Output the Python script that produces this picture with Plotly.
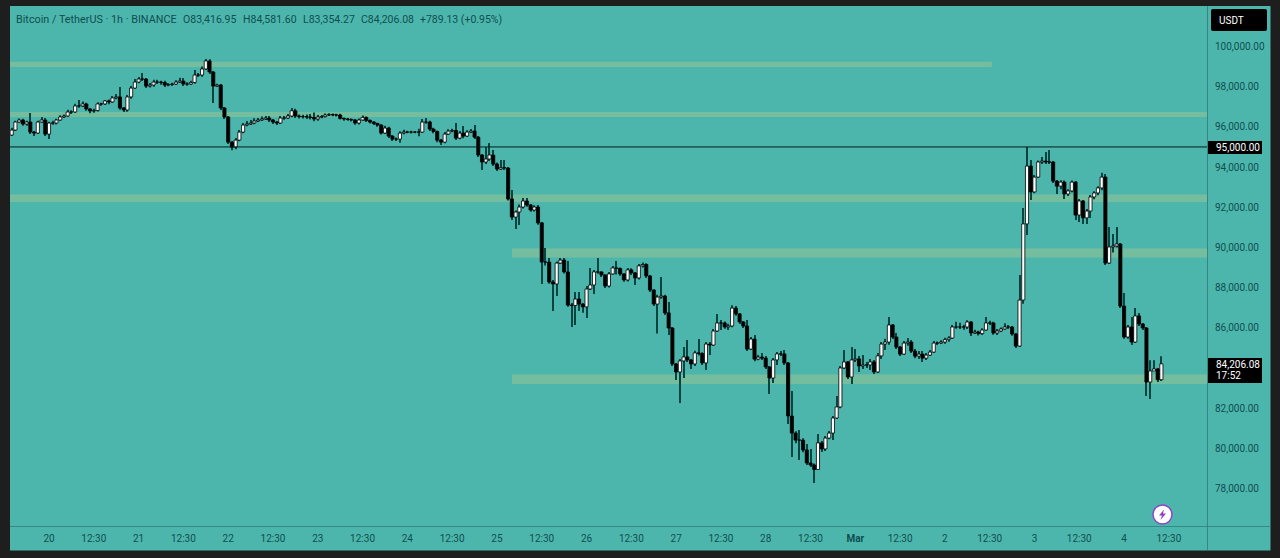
import pandas as pd
import plotly.graph_objects as go

first_open = 95590
closes = [
    95840, 96240, 96340, 96140, 96240, 95740, 95690, 96240, 96340, 95640,
    96190, 96190, 96340, 96490, 96540, 96740, 96740, 97040, 97040, 97140,
    96890, 96790, 96810, 97140, 97140, 97290, 97240, 97440, 97490, 96940,
    96840, 97490, 97930, 98230, 98380, 98380, 98030, 98080, 98230, 98230,
    98210, 98080, 98110, 98130, 98230, 98280, 98130, 98130, 98210, 98580,
    98580, 98880, 99280, 98730, 98030, 98080, 96940, 96490, 95240, 94990,
    95340, 95740, 96090, 96140, 96190, 96290, 96340, 96390, 96440, 96340,
    96240, 96190, 96440, 96440, 96540, 96800, 96540, 96510, 96510, 96490,
    96470, 96390, 96490, 96510, 96590, 96610, 96590, 96590, 96420, 96390,
    96370, 96340, 96190, 96340, 96470, 96320, 96240, 96170, 96090, 95690,
    95940, 95540, 95390, 95390, 95690, 95740, 95740, 95740, 95740, 95740,
    96240, 96240, 95890, 95770, 95340, 95240, 95640, 95790, 95820, 95440,
    95690, 95540, 95740, 95790, 95490, 94600, 94250, 94400, 94600, 94150,
    93900, 93970, 93950, 92410, 91510, 91760, 92010, 92310, 92110, 91860,
    92010, 91220, 89270, 89270, 88280, 88180, 89220, 89370, 88780, 87130,
    87110, 87430, 87180, 87040, 87930, 88130, 88780, 88780, 88630, 88080,
    88680, 88980, 88950, 88680, 88380, 88880, 88730, 88480, 89080, 89150,
    88580, 87880, 87180, 87530, 87580, 86740, 85990, 84200, 83800, 84350,
    84550, 84400, 84200, 84750, 84720, 84250, 85190, 85140, 85840, 86240,
    86240, 86040, 86090, 86980, 86690, 86290, 86090, 84940, 85440, 84440,
    84540, 84490, 84050, 83500, 84400, 84700, 84700, 84250, 81610, 80760,
    80410, 80410, 79920, 79270, 79170, 78950, 80270, 79970, 80510, 80760,
    81510, 82060, 84000, 84300, 83550, 84400, 84450, 84100, 84150, 84150,
    84300, 83800, 84600, 85190, 85290, 86140, 85540, 85040, 84690, 85240,
    85290, 84840, 84590, 84690, 84490, 84640, 84790, 85240, 85240, 85290,
    85410, 85490, 86040, 86040, 86040, 86040, 86290, 85740, 85790, 85710,
    85890, 86240, 86240, 85740, 85840, 85940, 86040, 86040, 85690, 85090,
    87380, 91170, 94050, 92760, 93500, 94250, 94300, 94250, 94250, 93300,
    93050, 93250, 92660, 92810, 93250, 91610, 92310, 91470, 91810, 92510,
    92710, 92960, 93500, 89220, 90020, 90070, 90170, 87080, 85540, 86040,
    85290, 86590, 86190, 85990, 83300, 83850, 83950, 83416.95, 84206.08,
]
highs = [
    95950, 96300, 96420, 96400, 96300, 96690, 95800, 96300, 96490, 96440,
    96250, 96300, 96400, 96580, 96620, 96850, 96830, 97150, 97340, 97260,
    97200, 96940, 96900, 97220, 97200, 97340, 97360, 97540, 97640, 97980,
    96990, 97580, 98030, 98380, 98480, 98680, 98430, 98180, 98340, 98340,
    98300, 98300, 98180, 98200, 98320, 98440, 98430, 98220, 98290, 98830,
    98680, 99000, 99380, 99370, 98780, 98150, 98130, 96990, 96540, 95300,
    95440, 95840, 96190, 96290, 96340, 96430, 96440, 96520, 96540, 96540,
    96390, 96290, 96540, 96540, 96640, 96940, 96900, 96610, 96600, 96620,
    96640, 96720, 96590, 96590, 96670, 96680, 96660, 96650, 96650, 96470,
    96440, 96420, 96390, 96420, 96570, 96520, 96360, 96280, 96210, 96130,
    96050, 96000, 95590, 95470, 95780, 95850, 95810, 95810, 95800, 95900,
    96390, 96440, 96300, 95950, 95820, 95400, 95740, 95880, 95900, 96190,
    95800, 96040, 95830, 95890, 96090, 95540, 94650, 95000, 95200, 94850,
    94220, 94350, 94350, 94000, 92860, 91840, 92130, 92460, 92460, 92160,
    92100, 92110, 91270, 89970, 89470, 88380, 89300, 89470, 89470, 89330,
    87230, 87780, 87780, 87230, 88080, 88980, 88880, 89470, 88800, 88650,
    88780, 89080, 89320, 89000, 88720, 88970, 88960, 88780, 89170, 89250,
    89210, 88630, 87920, 87640, 88530, 87640, 87280, 86040, 84250, 84450,
    85040, 85390, 84450, 84860, 85440, 84780, 85290, 85290, 85940, 86690,
    86390, 86310, 86200, 87120, 87080, 86740, 86340, 86390, 85540, 85640,
    84650, 84750, 84600, 84100, 84500, 84800, 84850, 84900, 84300, 82850,
    80850, 80910, 80500, 80210, 79970, 79250, 80710, 80370, 80610, 80860,
    81610, 82600, 84100, 84890, 84350, 85040, 84950, 84600, 84650, 84300,
    84450, 84400, 84750, 85290, 85450, 86540, 86190, 85740, 85090, 85340,
    85490, 85390, 84950, 84850, 84850, 84750, 84890, 85340, 85320, 85380,
    85500, 85580, 86140, 86300, 86250, 86150, 86370, 86340, 85900, 85850,
    85980, 86540, 86350, 86300, 85940, 86020, 86230, 86140, 86090, 85740,
    88630, 91960, 95000, 94350, 93600, 94330, 94500, 94750, 94850, 94300,
    93350, 93340, 93330, 92900, 93330, 93300, 92410, 92360, 91910, 92610,
    92800, 93040, 93710, 93650, 91010, 90670, 91010, 90220, 87730, 86140,
    86540, 86980, 86740, 86240, 86040, 84390, 84390, 84000, 84581.60,
]
lows = [
    95540, 95800, 96200, 96050, 96050, 95650, 95540, 95650, 96200, 95550,
    95400, 96100, 96120, 96300, 96440, 96500, 96640, 96700, 96950, 96990,
    96800, 96680, 96700, 96760, 97050, 97090, 97130, 97200, 97380, 96850,
    96740, 96750, 97400, 97880, 98170, 98280, 97930, 97960, 98000, 98130,
    98100, 97980, 98020, 98030, 98080, 98180, 98030, 98050, 98080, 98150,
    98480, 98500, 98830, 98630, 97190, 97980, 96840, 96390, 95150, 94840,
    94880, 95280, 95680, 96030, 96090, 96130, 96240, 96290, 96340, 96240,
    96140, 96090, 96140, 96350, 96390, 96480, 96440, 96410, 96420, 96390,
    96370, 96280, 96300, 96430, 96470, 96540, 96530, 96520, 96360, 96310,
    96300, 96270, 96110, 96120, 96300, 96240, 96170, 96090, 96000, 95620,
    95650, 95450, 95300, 95300, 95210, 95630, 95680, 95670, 95680, 95530,
    95690, 96150, 95790, 95680, 95240, 95100, 95190, 95590, 95730, 95340,
    95380, 95430, 95490, 95690, 95400, 94500, 93850, 94150, 94300, 94050,
    93800, 93850, 93850, 92330, 91360, 90920, 91110, 91940, 92020, 91770,
    91790, 91130, 88180, 89100, 88190, 86840, 87580, 89170, 88700, 87050,
    86040, 86140, 86840, 86750, 86490, 87880, 87680, 88690, 88530, 87980,
    88000, 88640, 88650, 88590, 88290, 88300, 88630, 88130, 88400, 89000,
    88480, 87780, 87080, 85710, 87450, 86640, 85640, 84100, 83400, 82260,
    83500, 84300, 83950, 84100, 84620, 84150, 83900, 84640, 85090, 85790,
    85890, 85950, 85890, 86030, 86600, 86190, 85990, 84840, 84900, 84340,
    84380, 84400, 83950, 82700, 83250, 84150, 84600, 84150, 81210, 79570,
    80250, 79420, 79800, 79170, 79070, 78275, 78950, 79820, 79870, 80450,
    80420, 81460, 82000, 83950, 83450, 83200, 84300, 83800, 83950, 84000,
    83900, 83700, 83750, 84450, 84900, 85150, 85440, 84950, 84590, 84640,
    85100, 84740, 84490, 84450, 84300, 84400, 84590, 84740, 85140, 85190,
    85200, 85300, 85440, 85950, 85940, 85900, 85940, 85590, 85690, 85620,
    85640, 85850, 86140, 85650, 85640, 85790, 85900, 85940, 85600, 85000,
    85040, 87190, 90620, 92360, 92700, 93455, 94150, 94150, 94150, 93200,
    92660, 92900, 92410, 92560, 92750, 91360, 91270, 91170, 91170, 91470,
    92400, 92600, 92850, 89120, 89170, 89750, 90000, 86980, 85450, 85450,
    85140, 85240, 86090, 85890, 82600, 82450, 83850, 83300, 83354.27,
]
opens = [first_open] + closes[:-1]

first_candle = "2025-02-19 14:30"

y_tick_vals = [100000, 98000, 96000, 94000, 92000, 90000, 88000, 86000, 82000, 80000, 78000]
y_tick_text = ["100,000.00", "98,000.00", "96,000.00", "94,000.00", "92,000.00", "90,000.00",
               "88,000.00", "86,000.00", "82,000.00", "80,000.00", "78,000.00"]
x_tick_vals = ["2025-02-20 00:30", "2025-02-20 12:30", "2025-02-21 00:30", "2025-02-21 12:30",
               "2025-02-22 00:30", "2025-02-22 12:30", "2025-02-23 00:30", "2025-02-23 12:30",
               "2025-02-24 00:30", "2025-02-24 12:30", "2025-02-25 00:30", "2025-02-25 12:30",
               "2025-02-26 00:30", "2025-02-26 12:30", "2025-02-27 00:30", "2025-02-27 12:30",
               "2025-02-28 00:30", "2025-02-28 12:30", "2025-03-01 00:30", "2025-03-01 12:30",
               "2025-03-02 00:30", "2025-03-02 12:30", "2025-03-03 00:30", "2025-03-03 12:30",
               "2025-03-04 00:30", "2025-03-04 12:30"]
x_tick_text = ["20", "12:30", "21", "12:30", "22", "12:30", "23", "12:30", "24", "12:30", "25", "12:30",
               "26", "12:30", "27", "12:30", "28", "12:30", "<b>Mar</b>", "12:30", "2", "12:30", "3", "12:30",
               "4", "12:30"]

# (start, end, low, high) of the pale zones
zones = [
    ("2025-02-19 14:00", "2025-03-02 13:06", 98985, 99245),
    ("2025-02-19 14:00", "2025-03-04 22:43", 96490, 96735),
    ("2025-02-19 14:00", "2025-03-04 22:43", 92255, 92635),
    ("2025-02-25 04:30", "2025-03-04 22:43", 89495, 89940),
    ("2025-02-25 04:30", "2025-03-04 22:43", 83200, 83675),
]
header_parts = [
    (14, "Bitcoin / TetherUS · 1h · BINANCE", 10.8),
    (181, "O83,416.95", 10.5),
    (241, "H84,581.60", 10.5),
    (301, "L83,354.27", 10.5),
    (359, "C84,206.08", 10.5),
    (418, "+789.13 (+0.95%)", 10.5),
]

TEAL = "#4DB6AC"
ZONE = "#74BD9E"
FRAME = "#1E1E1E"
TEXT = "#0E4E50"
WICK = "#0A4441"
FONT = "Roboto, sans-serif"

W, H = 1280, 558
LEFT, RIGHT, TOP, BOTTOM = 10, 1207, 6, 526
HOUR_MS = 3600000


def px(x):
    return (x - LEFT) / (RIGHT - LEFT)


def py(y):
    return (BOTTOM - y) / (BOTTOM - TOP)


def paper_rect(x0, y0, x1, y1, **kw):
    return dict(type="rect", xref="paper", yref="paper", x0=px(x0), x1=px(x1), y0=py(y0), y1=py(y1), **kw)


def label(x, y, text, color=TEXT, size=10, anchor="left"):
    return dict(xref="paper", yref="paper", x=px(x), y=py(y), text=text, showarrow=False, xanchor=anchor,
                yanchor="middle", font=dict(family=FONT, size=size, color=color))


candles = pd.DataFrame({"open": opens, "high": highs, "low": lows, "close": closes},
                       index=pd.date_range(first_candle, periods=len(closes), freq="h"))
up = candles[candles["close"] >= candles["open"]]
down = candles[candles["close"] < candles["open"]]

# bars for wicks and bodies, go.Candlestick can't set its body width
fig = go.Figure(go.Bar(x=candles.index, y=candles["high"] - candles["low"], base=candles["low"],
                       width=HOUR_MS * 0.27, marker=dict(color=WICK, line=dict(width=0)), hoverinfo="skip"))
for part, fill in [(up, "#FFFFFF"), (down, "#000000")]:
    fig.add_trace(go.Bar(x=part.index, y=(part["close"] - part["open"]).abs(),
                         base=part[["open", "close"]].min(axis=1), width=HOUR_MS * 0.84,
                         marker=dict(color=fill, line=dict(color="#000000", width=0.8)), hoverinfo="skip"))

shapes = [
    paper_rect(LEFT, TOP, 1270.5, 550.5, fillcolor=TEAL, line_width=0, layer="below"),
    paper_rect(RIGHT, TOP, 1207.8, 550.5, fillcolor="#2F7C78", line_width=0, layer="below"),
    paper_rect(LEFT, 526, 1270.5, 526.8, fillcolor="#2F7C78", line_width=0, layer="below"),
]
for start, end, low, high in zones:
    shapes.append(dict(type="rect", xref="x", yref="y", x0=start, x1=end, y0=low, y1=high,
                       fillcolor=ZONE, line_width=0, layer="below"))
shapes.append(dict(type="line", xref="paper", yref="y", x0=0, x1=1, y0=95000, y1=95000,
                   line=dict(color="#031F1E", width=1), layer="above"))
# price tags and currency box
shapes.append(paper_rect(1208, 141, 1262, 154, fillcolor="#000000", line_width=0))
shapes.append(paper_rect(1208, 358, 1262, 383, fillcolor="#000000", line_width=0))
shapes.append(dict(type="path", xref="paper", yref="paper", fillcolor="#000000", line_width=0,
                   path=f"M{px(1213)},{py(9)} L{px(1265)},{py(9)} Q{px(1267)},{py(9)} {px(1267)},{py(11)} "
                        f"L{px(1267)},{py(29)} Q{px(1267)},{py(31)} {px(1265)},{py(31)} L{px(1213)},{py(31)} "
                        f"Q{px(1211)},{py(31)} {px(1211)},{py(29)} L{px(1211)},{py(11)} "
                        f"Q{px(1211)},{py(9)} {px(1213)},{py(9)} Z"))
# lightning badge
shapes.append(dict(type="circle", xref="paper", yref="paper", x0=px(1153), x1=px(1172), y0=py(505), y1=py(524),
                   fillcolor="#FFFFFF", line=dict(color="#8E44C8", width=1.5)))
shapes.append(dict(type="path", xref="paper", yref="paper", fillcolor="#8E3FC4", line_width=0,
                   path=f"M{px(1164)},{py(509.5)} L{px(1159)},{py(515.5)} L{px(1162)},{py(515.5)} "
                        f"L{px(1160.5)},{py(520)} L{px(1166)},{py(513.5)} L{px(1163)},{py(513.5)} Z"))

annotations = [label(x, 19, text, size=size) for x, text, size in header_parts]
annotations += [
    label(1217, 20, "USDT", color="#FFFFFF"),
    label(1214, 147.5, "95,000.00", color="#FFFFFF"),
    label(1214, 364, "84,206.08", color="#FFFFFF"),
    label(1214, 375.5, "17:52", color="#FFFFFF"),
]

fig.update_layout(
    width=W, height=H, margin=dict(l=LEFT, r=W - RIGHT, t=TOP, b=H - BOTTOM, pad=0),
    paper_bgcolor=FRAME, plot_bgcolor=TEAL, showlegend=False, shapes=shapes, annotations=annotations,
    barmode="overlay", font=dict(family=FONT, size=10, color=TEXT),
    xaxis=dict(range=["2025-02-19 14:03", "2025-03-04 22:43"], showgrid=False,
               zeroline=False, showline=False, ticks="outside", ticklen=3, tickcolor="rgba(0,0,0,0)",
               tickmode="array", tickvals=x_tick_vals, ticktext=x_tick_text, tickangle=0,
               tickfont=dict(family=FONT, size=10, color=TEXT)),
    yaxis=dict(range=[76135, 102015], side="right", showgrid=False, zeroline=False, showline=False,
               ticks="outside", ticklen=5, tickcolor="rgba(0,0,0,0)", tickmode="array",
               tickvals=y_tick_vals, ticktext=y_tick_text, tickfont=dict(family=FONT, size=10, color=TEXT)),
)

fig.write_html("out.html", config=dict(displayModeBar=False), post_script="document.body.style.margin='0';")
